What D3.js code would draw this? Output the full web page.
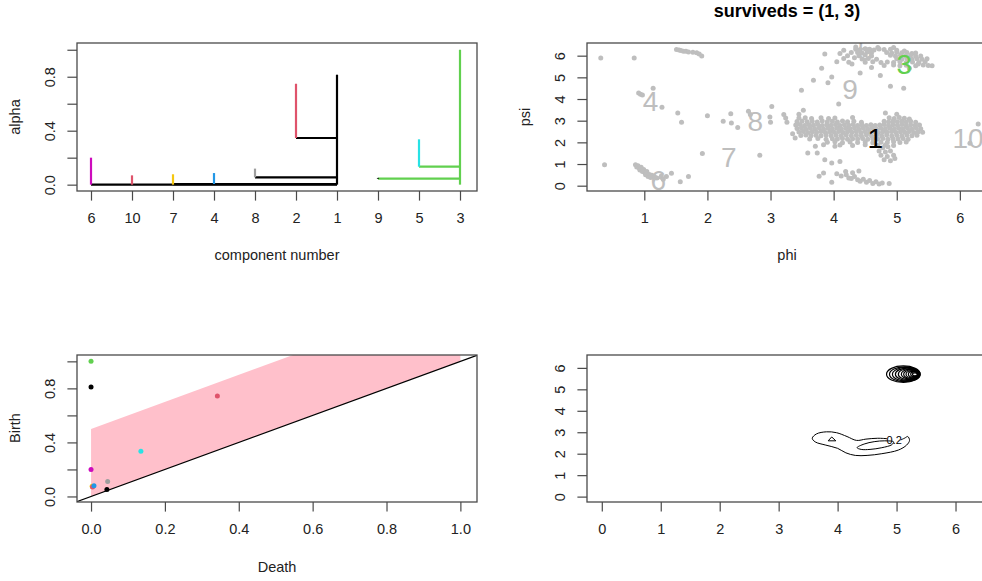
<!DOCTYPE html>
<html>
<head>
<meta charset="utf-8">
<script src="https://cdn.jsdelivr.net/npm/d3@7/dist/d3.min.js"></script>
<style>
  html, body { margin: 0; padding: 0; background: #fff; overflow: hidden; }
  svg { display: block; }
</style>
</head>
<body>
<div id="chart"></div>
<script>
// ---- data ----
// cluster tree (top-left)
const componentIds = ['6', '10', '7', '4', '8', '2', '1', '9', '5', '3'];
const branchLow  = [0, 0, 0, 0.005, 0.054, 0.346, 0, 0.044, 0.133, 0];
const branchHigh = [0.2, 0.069, 0.077, 0.086, 0.119, 0.748, 0.815, 0.05, 0.336, 1.0];
// [child, parent, alpha at merge]
const merges = [['6', '1', 0.0], ['7', '1', 0.004], ['8', '1', 0.054], ['2', '1', 0.346],
                ['9', '3', 0.044], ['5', '3', 0.133]];
const alphaTicks = [0, 0.2, 0.4, 0.6, 0.8, 1.0];
const alphaTickLabels = ['0.0', '', '0.4', '', '0.8', ''];

// persistence diagram (bottom-left)
const pdComponent = ['7', '6', '10', '4', '8', '9', '5', '2', '1', '3'];
const pdDeath = [0.003, 0, 0.004, 0.008, 0.045, 0.043, 0.135, 0.342, 0, 0];
const pdBirth = [0.075, 0.2, 0.07, 0.079, 0.11, 0.052, 0.335, 0.744, 0.81, 1.0];
const bandPolygon = [[0, 0], [0, 0.5], [1, 1.5], [1, 1]];
const deathTicks = [0, 0.2, 0.4, 0.6, 0.8, 1.0];

// phi/psi sample (top-right)
const phiPsi = [
  [0.31,5.89],[0.84,5.89],[0.37,0.97],
  [1.51,6.28],[1.55,6.26],[1.58,6.24],[1.62,6.21],[1.66,6.2],[1.70,6.17],[1.77,6.16],[1.83,6.14],[1.87,6.08],[1.91,5.98],
  [0.91,4.28],[0.94,4.22],[0.97,4.18],[1.14,4.5],[1.28,3.62],[1.53,3.35],[1.59,2.93],[2.0,3.23],
  [0.86,0.97],[0.88,0.86],[0.90,0.92],[0.92,0.8],[0.93,0.72],[0.95,0.85],[0.97,0.66],[0.99,0.75],[1.01,0.6],
  [1.02,0.5],[1.04,0.66],[1.06,0.42],[1.08,0.52],[1.1,0.38],[1.12,0.48],[1.16,0.42],[1.2,0.36],[1.27,0.45],
  [1.3,0.3],[1.35,0.42],[1.43,0.57],[1.57,0.18],[1.70,0.42],[1.92,1.49],
  [2.25,2.97],[2.37,3.32],[2.38,2.89],[2.48,2.69],[2.65,3.43],[2.68,3.28],[2.83,1.41],[3.02,3.66],[2.99,3.17],
  [3.0,2.93],[3.21,3.28],[3.26,2.93],[3.24,3.12],
  [3.86,6.08],[3.81,5.42],[3.68,4.87],[3.91,4.75],[3.97,5.02],[3.49,4.4],[4.08,3.77],[4.42,5.2],[4.74,5.08],
  [4.9,4.59],[5.11,4.5],[5.56,5.54],
  // upper group
  [4.05,5.72],[4.1,6.1],[4.16,5.87],[4.16,6.25],[4.22,6.0],[4.24,5.7],[4.29,5.62],[4.28,6.15],[4.33,5.9],
  [4.35,6.3],[4.42,6.28],[4.5,6.32],[4.57,6.3],[4.64,6.26],[4.72,6.31],[4.8,6.28],[4.9,6.3],[5.0,6.25],
  [4.38,6.15],[4.45,6.12],[4.53,6.17],[4.6,6.14],[4.84,6.15],[4.92,6.12],[5.0,6.16],[5.08,6.13],[5.16,6.15],[5.24,6.1],
  [4.4,6.0],[4.5,6.03],[4.6,5.98],[4.9,6.02],[4.98,5.98],[5.06,6.02],[5.14,5.98],[5.22,6.02],[5.3,5.97],[5.38,5.99],
  [4.45,5.85],[4.55,5.87],[4.68,5.83],[5.0,5.86],[5.08,5.83],[5.16,5.87],[5.24,5.84],[5.32,5.86],[5.4,5.83],[5.48,5.86],
  [4.5,5.7],[4.62,5.72],[4.75,5.68],[4.85,5.71],[4.95,5.69],[5.05,5.72],[5.15,5.68],[5.25,5.71],[5.35,5.69],[5.45,5.72],
  [4.8,5.55],[4.95,5.57],[5.05,5.53],[5.15,5.56],[5.3,5.54],[5.42,5.57],[5.5,5.55],
  [4.6,5.45],[5.2,5.42],[4.35,6.4],[4.7,6.38],[4.95,6.38],[5.12,6.22],[5.3,6.12],[5.34,5.62],
  // main group
  [3.52,3.48],[3.45,3.3],[4.82,3.35],[5.0,3.3],[4.3,3.15],[3.35,2.4],[3.39,2.2],
  [3.45,3.12],[3.55,3.14],[3.65,3.1],[3.8,3.13],[3.92,3.1],[4.02,3.12],[4.88,3.14],[4.96,3.1],[5.04,3.15],[5.12,3.11],[5.2,3.08],
  [3.42,2.96],[3.5,2.98],[3.58,2.95],[3.66,2.97],[3.74,2.94],[3.82,2.98],[3.9,2.95],[3.98,2.97],[4.06,2.94],[4.14,2.98],
  [4.22,2.95],[4.32,2.97],[4.44,2.93],[4.8,2.97],[4.87,2.94],[4.94,2.98],[5.01,2.95],[5.08,2.97],[5.15,2.94],[5.22,2.97],[5.3,2.93],
  [3.4,2.8],[3.47,2.82],[3.54,2.78],[3.61,2.81],[3.68,2.79],[3.75,2.82],[3.82,2.78],[3.89,2.81],[3.96,2.79],[4.03,2.82],
  [4.1,2.78],[4.17,2.81],[4.24,2.79],[4.31,2.82],[4.38,2.78],[4.45,2.8],[4.52,2.78],[4.59,2.81],[4.66,2.78],[4.73,2.8],
  [4.8,2.82],[4.87,2.78],[4.94,2.81],[5.01,2.79],[5.08,2.82],[5.15,2.78],[5.22,2.81],[5.29,2.78],[5.36,2.8],
  [3.42,2.64],[3.49,2.66],[3.56,2.62],[3.63,2.65],[3.7,2.63],[3.77,2.66],[3.84,2.62],[3.91,2.65],[3.98,2.63],[4.05,2.66],
  [4.12,2.62],[4.19,2.65],[4.26,2.63],[4.33,2.66],[4.4,2.62],[4.47,2.65],[4.54,2.63],[4.61,2.66],[4.68,2.62],[4.75,2.65],
  [4.82,2.63],[4.89,2.66],[4.96,2.62],[5.03,2.65],[5.1,2.63],[5.17,2.66],[5.24,2.62],[5.31,2.65],[5.38,2.63],
  [3.45,2.48],[3.52,2.5],[3.59,2.46],[3.66,2.49],[3.73,2.47],[3.8,2.5],[3.87,2.46],[3.94,2.49],[4.01,2.47],[4.08,2.5],
  [4.15,2.46],[4.22,2.49],[4.29,2.47],[4.36,2.5],[4.43,2.46],[4.5,2.49],[4.57,2.47],[4.64,2.5],[4.71,2.46],[4.78,2.49],
  [4.85,2.47],[4.92,2.5],[4.99,2.46],[5.06,2.49],[5.13,2.47],[5.2,2.5],[5.27,2.46],[5.34,2.49],[5.41,2.47],
  [3.48,2.32],[3.56,2.34],[3.64,2.3],[3.72,2.33],[3.8,2.31],[3.88,2.34],[3.96,2.3],[4.04,2.33],[4.12,2.31],[4.2,2.34],
  [4.28,2.3],[4.36,2.33],[4.44,2.31],[4.52,2.34],[4.6,2.3],[4.68,2.33],[4.76,2.31],[4.84,2.34],[4.92,2.3],[5.0,2.33],
  [5.08,2.31],[5.16,2.34],[5.24,2.3],[5.32,2.33],
  [3.62,2.16],[3.75,2.18],[3.88,2.14],[3.98,2.17],[4.06,2.15],[4.14,2.18],[4.22,2.14],[4.3,2.17],[4.38,2.15],[4.46,2.18],
  [4.54,2.14],[4.62,2.17],[4.7,2.15],[4.78,2.18],[4.86,2.14],[4.94,2.17],[5.02,2.15],[5.1,2.18],[5.18,2.14],
  [3.9,2.0],[4.02,2.03],[4.14,1.98],[4.26,2.02],[4.38,1.99],[4.5,2.02],[4.62,1.98],[4.75,2.01],[4.85,1.99],[4.95,2.03],[5.05,1.99],[5.15,2.02],
  [4.1,1.88],[4.3,1.86],[4.5,1.89],[4.68,1.87],[4.82,1.88],[4.95,1.86],
  [4.7,1.85],[4.78,1.75],[4.86,1.8],[4.72,1.6],[4.82,1.55],[4.9,1.6],[4.75,1.4],[4.85,1.35],[4.95,1.4],[4.8,1.2],[4.9,1.15],[4.97,1.25],
  // lower scatter
  [3.59,1.51],[3.71,1.82],[3.74,1.51],[3.84,1.89],[3.86,1.2],[3.97,1.05],[4.02,1.82],[4.1,1.12],[3.77,0.43],[3.84,0.58],
  [3.97,0.16],[4.19,0.66],[4.24,0.36],
  [4.05,0.55],[4.12,0.45],[4.2,0.5],[4.28,0.33],[4.33,0.42],[4.38,0.27],[4.42,0.2],[4.47,0.3],[4.52,0.16],[4.57,0.24],
  [4.62,0.1],[4.67,0.18],[4.72,0.08],[4.77,0.12],[4.88,0.1],[4.4,0.68],[4.3,0.6],
  [6.16,1.96],[6.29,2.85]
];
const labelIds = ['4', '6', '7', '8', '9', '5', '3', '1', '10'];
const labelPhi = [1.1, 1.22, 2.34, 2.76, 4.26, 4.5, 5.12, 4.66, 6.13];
const labelPsi = [3.9, 0.27, 1.35, 3.0, 4.45, 6.26, 5.6, 2.22, 2.22];
const angleTicks = [0, 1, 2, 3, 4, 5, 6];

// density contours (bottom-right), [phi, psi]
const contourOuter = [[5.07,2.64],[5.14,2.73],[5.19,2.8],[5.22,2.62],[5.17,2.4],[5.03,2.17],[4.75,2.0],
  [4.5,1.92],[4.3,1.92],[4.14,2.04],[4.0,2.25],[3.8,2.4],[3.62,2.55],[3.57,2.72],[3.64,2.92],[3.81,3.02],
  [3.98,2.98],[4.16,2.8],[4.32,2.62],[4.48,2.68],[4.68,2.72],[4.84,2.7]];
const contourInner = [[4.33,2.28],[4.45,2.45],[4.62,2.56],[4.8,2.6],[4.95,2.55],[4.92,2.42],[4.75,2.28],
  [4.55,2.2],[4.4,2.2]];
const contourSmall = [[3.84,2.6],[3.97,2.6],[3.9,2.78]];
// dense mode near (5.1, 5.7): [left, right, bottom, top] of each level
const modeRings = [
  [4.83,5.40,5.32,6.09],[4.88,5.40,5.36,6.05],[4.93,5.39,5.39,6.02],[4.98,5.39,5.42,5.99],
  [5.03,5.38,5.45,5.96],[5.08,5.38,5.48,5.93],[5.12,5.37,5.51,5.90],[5.16,5.37,5.54,5.87],
  [5.20,5.36,5.57,5.84],[5.24,5.36,5.60,5.81],[5.27,5.35,5.63,5.77]
];
const contourLabel = ['0.2', 4.96, 2.64];

// ---- drawing ----
const W = 982, H = 581;
const FONT = '"Liberation Sans", Arial, Helvetica, sans-serif';
const FS = 14.5;
const INK = '#222';
const FRAME = '#4a4a4a';
const rPalette = ['#000000', '#000000', '#DF536B', '#61D04F', '#2297E6', '#28E2E5', '#CD0BBC', '#F5C710', '#9E9E9E'];
const colorOf = id => rPalette[((+id - 1) % 8) + 1];

const svg = d3.select('#chart').append('svg')
  .attr('width', W).attr('height', H)
  .attr('font-family', FONT);
svg.append('rect').attr('width', W).attr('height', H).attr('fill', '#fff');

function drawFrame(b) {
  svg.append('rect')
    .attr('x', b.x0).attr('y', b.y0)
    .attr('width', b.x1 - b.x0).attr('height', b.y1 - b.y0)
    .attr('fill', 'none').attr('stroke', FRAME).attr('stroke-width', 1.3);
}

function bottomAxis(scale, values, fmt, y) {
  const g = svg.append('g').attr('transform', `translate(0,${y})`)
    .call(d3.axisBottom(scale).tickValues(values).tickFormat(fmt).tickSize(9.6).tickPadding(12.5));
  g.select('.domain').remove();
  g.attr('font-family', FONT).attr('font-size', FS);
  g.selectAll('line').attr('stroke', FRAME).attr('stroke-width', 1.2);
  g.selectAll('text').attr('fill', INK);
}

function leftAxis(scale, values, fmt, x) {
  const g = svg.append('g').attr('transform', `translate(${x},0)`)
    .call(d3.axisLeft(scale).tickValues(values).tickFormat(fmt).tickSize(9.6));
  g.select('.domain').remove();
  g.attr('font-family', FONT).attr('font-size', FS);
  g.selectAll('line').attr('stroke', FRAME).attr('stroke-width', 1.2);
  g.selectAll('text').attr('fill', INK)
    .attr('x', null).attr('dy', null)
    .attr('text-anchor', 'middle')
    .attr('transform', 'translate(-22,0) rotate(-90)');
}

function axisTitle(txt, x, y, vertical) {
  svg.append('text')
    .attr('transform', vertical ? `translate(${x},${y}) rotate(-90)` : `translate(${x},${y})`)
    .attr('text-anchor', 'middle')
    .attr('font-size', FS).attr('fill', INK)
    .text(txt);
}

function clipFor(id, b) {
  svg.append('clipPath').attr('id', id).append('rect')
    .attr('x', b.x0).attr('y', b.y0).attr('width', b.x1 - b.x0).attr('height', b.y1 - b.y0);
  return `url(#${id})`;
}

// ---------- panel 1: cluster tree ----------
(function () {
  const b = { x0: 77, y0: 43, x1: 477, y1: 191 };
  const x = d3.scalePoint().domain(componentIds).range([91, 460]);
  const y = d3.scaleLinear().domain([-0.047, 1.05]).range([b.y1, b.y0]);
  const g = svg.append('g');

  g.selectAll('line.merge').data(merges).enter().append('line')
    .attr('x1', d => x(d[0])).attr('x2', d => x(d[1]))
    .attr('y1', d => y(d[2])).attr('y2', d => y(d[2]))
    .attr('stroke', d => colorOf(d[1])).attr('stroke-width', 2.2);

  g.selectAll('line.branch').data(componentIds).enter().append('line')
    .attr('x1', d => x(d)).attr('x2', d => x(d))
    .attr('y1', (d, i) => y(branchLow[i])).attr('y2', (d, i) => y(branchHigh[i]))
    .attr('stroke', d => colorOf(d)).attr('stroke-width', 2.2);

  drawFrame(b);
  bottomAxis(x, componentIds, d => d, b.y1);
  leftAxis(y, alphaTicks, (d, i) => alphaTickLabels[i], b.x0);
  axisTitle('component number', (b.x0 + b.x1) / 2, 260, false);
  axisTitle('alpha', 20, (b.y0 + b.y1) / 2, true);
})();

// ---------- panel 2: phi / psi scatter ----------
(function () {
  const b = { x0: 587, y0: 43, x1: 987, y1: 191 };
  const x = d3.scaleLinear().domain([0.092, 6.43]).range([b.x0, b.x1]);
  const y = d3.scaleLinear().domain([-0.245, 6.585]).range([b.y1, b.y0]);
  const g = svg.append('g').attr('clip-path', clipFor('clip2', b));

  g.selectAll('circle').data(phiPsi).enter().append('circle')
    .attr('cx', d => x(d[0])).attr('cy', d => y(d[1]))
    .attr('r', 2.5).attr('fill', '#BEBEBE');

  g.selectAll('text').data(labelIds).enter().append('text')
    .attr('x', (d, i) => x(labelPhi[i])).attr('y', (d, i) => y(labelPsi[i]))
    .attr('dy', '0.36em')
    .attr('text-anchor', 'middle')
    .attr('font-size', 28)
    .attr('fill', d => d === '1' ? '#000' : d === '3' ? '#61D04F' : '#BEBEBE')
    .text(d => d);

  drawFrame(b);
  bottomAxis(x, angleTicks.slice(1), d => d, b.y1);
  leftAxis(y, angleTicks, d => d, b.x0);
  axisTitle('phi', 787, 260, false);
  axisTitle('psi', 530, (b.y0 + b.y1) / 2, true);

  svg.append('text')
    .attr('x', 787).attr('y', 17)
    .attr('text-anchor', 'middle')
    .attr('font-size', 18).attr('font-weight', 'bold').attr('fill', '#000')
    .text('surviveds = (1, 3)');
})();

// ---------- panel 3: persistence diagram ----------
(function () {
  const b = { x0: 77, y0: 355, x1: 477, y1: 502 };
  const x = d3.scaleLinear().domain([-0.038, 1.045]).range([b.x0, b.x1]);
  const y = d3.scaleLinear().domain([-0.041, 1.047]).range([b.y1, b.y0]);
  const g = svg.append('g').attr('clip-path', clipFor('clip3', b));

  g.append('path')
    .datum(bandPolygon)
    .attr('d', d3.line().x(d => x(d[0])).y(d => y(d[1])).curve(d3.curveLinearClosed))
    .attr('fill', '#FFC0CB');

  g.append('line')
    .attr('x1', x(-0.1)).attr('y1', y(-0.1))
    .attr('x2', x(1.1)).attr('y2', y(1.1))
    .attr('stroke', '#000').attr('stroke-width', 1.2);

  g.selectAll('circle').data(pdComponent).enter().append('circle')
    .attr('cx', (d, i) => x(pdDeath[i])).attr('cy', (d, i) => y(pdBirth[i]))
    .attr('r', 2.5).attr('fill', d => colorOf(d));

  drawFrame(b);
  bottomAxis(x, deathTicks, d3.format('.1f'), b.y1);
  leftAxis(y, alphaTicks, (d, i) => alphaTickLabels[i], b.x0);
  axisTitle('Death', (b.x0 + b.x1) / 2, 572, false);
  axisTitle('Birth', 20, 428, true);
})();

// ---------- panel 4: density contours ----------
(function () {
  const b = { x0: 587, y0: 355, x1: 987, y1: 502 };
  const x = d3.scaleLinear().domain([-0.251, 6.534]).range([b.x0, b.x1]);
  const y = d3.scaleLinear().domain([-0.251, 6.6]).range([b.y1, b.y0]);
  const g = svg.append('g').attr('fill', 'none').attr('stroke', '#000').attr('stroke-width', 1);

  const lineOpen = d3.line().x(d => x(d[0])).y(d => y(d[1])).curve(d3.curveCatmullRom);
  const lineClosed = d3.line().x(d => x(d[0])).y(d => y(d[1])).curve(d3.curveCatmullRomClosed);

  g.append('path').attr('d', lineOpen(contourOuter));
  g.append('path').attr('d', lineClosed(contourInner));
  g.append('path').attr('d', d3.line().x(d => x(d[0])).y(d => y(d[1])).curve(d3.curveLinearClosed)(contourSmall));

  g.selectAll('ellipse').data(modeRings).enter().append('ellipse')
    .attr('cx', d => x((d[0] + d[1]) / 2))
    .attr('cy', d => y((d[2] + d[3]) / 2))
    .attr('rx', d => (x(d[1]) - x(d[0])) / 2)
    .attr('ry', d => (y(d[2]) - y(d[3])) / 2)
    .attr('stroke-width', 1.2);

  svg.append('text')
    .attr('x', x(contourLabel[1])).attr('y', y(contourLabel[2]))
    .attr('dy', '0.35em').attr('text-anchor', 'middle')
    .attr('font-size', 11).attr('fill', '#000')
    .text(contourLabel[0]);

  drawFrame(b);
  bottomAxis(x, angleTicks, d => d, b.y1);
  leftAxis(y, angleTicks, d => d, b.x0);
})();
</script>
</body>
</html>
